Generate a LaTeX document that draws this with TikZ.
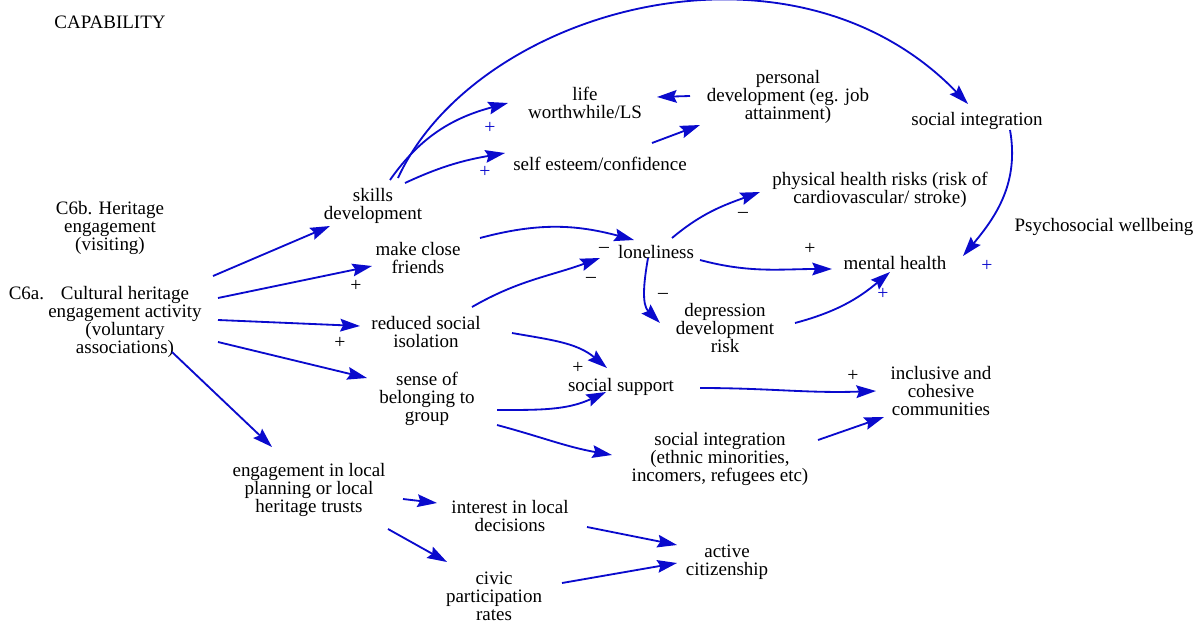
\documentclass[tikz,border=0pt]{standalone}
\usepackage{fontspec}
\setmainfont{Liberation Serif}
\usepackage{tikz}
\usetikzlibrary{positioning, calc, arrows.meta}
\definecolor{linkblue}{RGB}{10,10,205}
\tikzset{
  lbl/.style={align=center, inner sep=1pt, font=\fontsize{13.5}{12.8}\selectfont},
  arr/.style={draw=linkblue, line width=1.3pt, -{Stealth[length=14pt, width=9pt, inset=2pt]}},
  sgn/.style={inner sep=0pt, font=\fontsize{14}{14}\selectfont},
  bsgn/.style={sgn, text=linkblue}
}

\begin{document}
\begin{tikzpicture}[x=0.025cm, y=-0.025cm]
                \useasboundingbox (0,0) rectangle (1200,624);
                \node [lbl] (cap) at (110,22) {CAPABILITY};
                \node [lbl] (c6b) at (110,228) {C6b. Heritage\\engagement\\(visiting)};
                \node [lbl] (c6a) at (125,322) {\llap{C6a.\hspace{12pt}}Cultural heritage\\engagement activity\\(voluntary\\associations)};
                \node [lbl] (skills) at (373,206) {skills\\development};
                \node [lbl] (life) at (585,103) {life\\worthwhile/LS};
                \node [lbl] (self) at (600,164) {self esteem/confidence};
                \node [lbl] (pers) at (788,97) {personal\\development (eg. job\\attainment)};
                \node [lbl] (socint) at (977,121) {social integration};
                \node [lbl] (phys) at (880,190) {physical health risks (risk of\\cardiovascular/ stroke)};
                \node [lbl] (psy) at (1104,227) {Psychosocial wellbeing};
                \node [lbl] (friends) at (418,258) {make close\\friends};
                \node [lbl] (lonely) at (656,252) {loneliness};
                \node [lbl] (mental) at (895,263) {mental health};
                \node [lbl] (depr) at (725,328) {depression\\development\\risk};
                \node [lbl] (isol) at (426,332) {reduced social\\isolation};
                \node [lbl] (belong) at (427,399) {sense of\\belonging to\\group};
                \node [lbl, inner sep=0pt] (support) at (621,387) {social support};
                \node [lbl] (incl) at (941,391) {inclusive and\\cohesive\\communities};
                \node [lbl] (integr) at (720,459) {social integration\\(ethnic minorities,\\incomers, refugees etc)};
                \node [lbl] (local) at (309,490) {engagement in local\\planning or local\\heritage trusts};
                \node [lbl] (interest) at (510,516) {interest in local\\decisions};
                \node [lbl] (active) at (727,562) {active\\citizenship};
                \node [lbl] (civic) at (494,596) {civic\\participation\\rates};

                \draw [arr] ($(c6a)+(88,-46)$) -- ($(skills)+(-43,20)$);
                \draw [arr] ($(c6a)+(93,-24)$) -- ($(friends)+(-46,8)$);
                \draw [arr] ($(c6a)+(93,-2)$) -- ($(isol)+(-66,-6)$);
                \draw [arr] ($(c6a)+(93,20)$) -- ($(belong)+(-60,-21)$);
                \draw [arr] ($(c6a)+(47,30)$) -- ($(local)+(-37,-43)$);
                \draw [arr] ($(skills)+(25,-28)$) .. controls +(77,-168) and +(-178,-184) .. ($(socint)+(-9,-17)$);
                \draw [arr] ($(skills)+(17,-26)$) to [out=55, in=195] ($(life)+(-77,0)$);
                \draw [arr] ($(skills)+(32,-23)$) to [out=25, in=190] ($(self)+(-95,-11)$);
                \draw [arr] ($(self)+(52,-21)$) -- ($(pers)+(-88,28)$);
                \draw [arr] ($(pers)+(-98,-1)$) -- ($(life)+(72,-6)$);
                \draw [arr] ($(socint)+(33,9)$) to [out=-80, in=50] ($(mental)+(68,-7)$);
                \draw [arr] ($(friends)+(62,-20)$) to [out=15, in=165] ($(lonely)+(-22,-12)$);
                \draw [arr] ($(isol)+(46,-25)$) to [out=30, in=200] ($(lonely)+(-56,6)$);
                \draw [arr] ($(lonely)+(16,-14)$) to [out=40, in=200] ($(phys)+(-120,2)$);
                \draw [arr] ($(lonely)+(44,8)$) to [out=-15, in=180] ($(mental)+(-63,6)$);
                \draw [arr] ($(lonely)+(-8,6)$) to [out=-100, in=135] ($(depr)+(-65,-5)$);
                \draw [arr] ($(depr)+(70,-5)$) to [out=15, in=220] ($(mental)+(-5,9)$);
                \draw [arr] ($(isol)+(86,1)$) to [out=-10, in=140] ($(support)+(-14,-19)$);
                \draw [arr] ($(belong)+(70,11)$) to [out=0, in=205] ($(support)+(-15,5)$);
                \draw [arr] ($(belong)+(70,26)$) to [out=-15, in=170] ($(integr)+(-108,-4)$);
                \draw [arr] ($(support)+(79,1)$) to [out=0, in=182] ($(incl)+(-65,0)$);
                \draw [arr] ($(integr)+(98,-19)$) -- ($(incl)+(-57,26)$);
                \draw [arr] ($(local)+(94,9)$) -- ($(interest)+(-73,-13)$);
                \draw [arr] ($(local)+(79,39)$) -- ($(civic)+(-47,-34)$);
                \draw [arr] ($(interest)+(77,11)$) -- ($(active)+(-50,-17)$);
                \draw [arr] ($(civic)+(68,-13)$) -- ($(active)+(-50,1)$);

                \node [bsgn] (s1) at (490,128) {+};
                \node [bsgn] (s2) at (485,172) {+};
                \node [bsgn] (s3) at (987,266) {+};
                \node [bsgn] (s4) at (883,294) {+};
                \node [sgn] (s5) at (356,286) {+};
                \node [sgn] (s6) at (340,343) {+};
                \node [sgn] (s7) at (810,249) {+};
                \node [sgn] (s8) at (578,368) {+};
                \node [sgn] (s9) at (853,376) {+};
                \node [sgn] (m1) at (604,250) {--};
                \node [sgn] (m2) at (591,280) {--};
                \node [sgn] (m3) at (743,215) {--};
                \node [sgn] (m4) at (663,296) {--};
            \end{tikzpicture}
\end{document}
